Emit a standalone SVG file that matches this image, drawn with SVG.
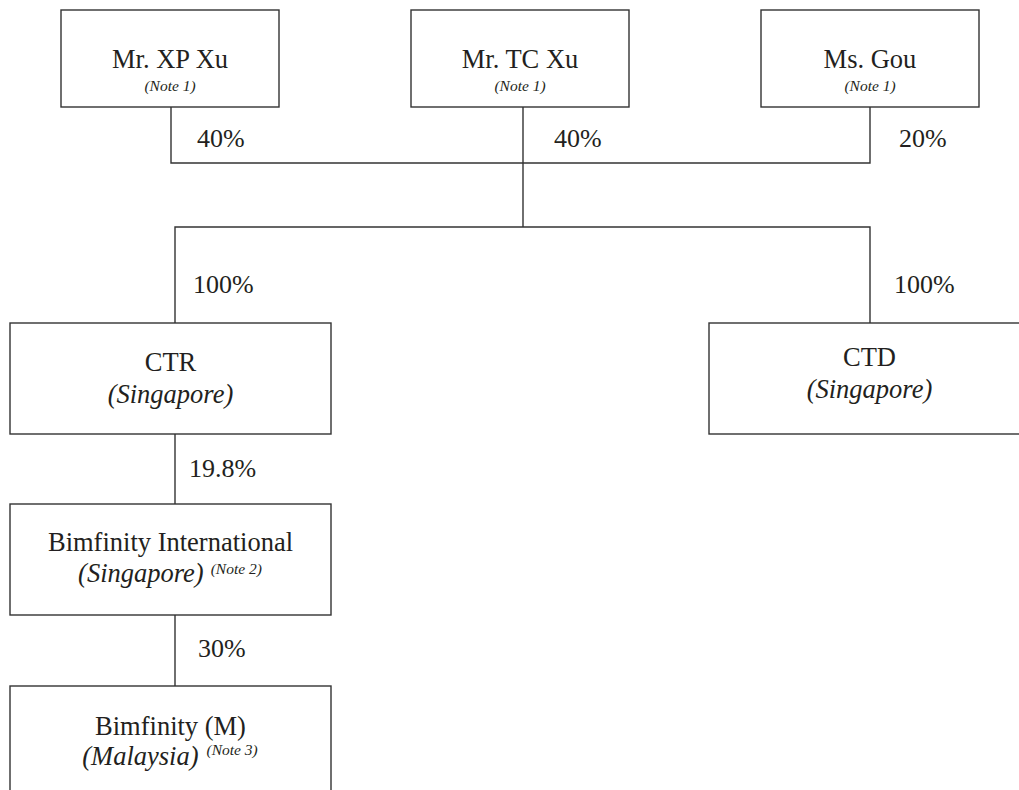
<svg xmlns="http://www.w3.org/2000/svg" width="1019" height="790" viewBox="0 0 1019 790">
<style>
.box{fill:#fff;stroke:#333;stroke-width:1.4}
.ln{fill:none;stroke:#333;stroke-width:1.4}
text{font-family:"Liberation Serif","Times New Roman",serif;fill:#231f20}
.nm{font-size:26.5px;text-anchor:middle}
.it{font-style:italic;font-size:26.5px;text-anchor:middle}
.mid{text-anchor:middle}
.it2{font-style:italic;font-size:26.5px}
.nt{font-style:italic;font-size:15.5px;text-anchor:middle}
.sn{font-style:italic;font-size:15.5px}
.pc{font-size:26px}
</style>
<rect width="1019" height="790" fill="#fff"/>
<g id="connectors">
<path class="ln" d="M171,107 V163 H870 V107"/>
<path class="ln" d="M523,107 V227"/>
<path class="ln" d="M175,323 V227 H870 V323"/>
<path class="ln" d="M175,434 V504"/>
<path class="ln" d="M175,615 V686"/>
<text class="pc" x="197" y="147">40%</text>
<text class="pc" x="554" y="147">40%</text>
<text class="pc" x="899" y="147">20%</text>
<text class="pc" x="193" y="293">100%</text>
<text class="pc" x="894" y="293">100%</text>
<text class="pc" x="189" y="477">19.8%</text>
<text class="pc" x="198" y="657">30%</text>
</g>
<g id="xp">
<rect class="box" x="61" y="10" width="218" height="97"/>
<text class="nm" x="170" y="68">Mr. XP Xu</text>
<text class="nt" x="170" y="91">(Note 1)</text>
</g>
<g id="tc">
<rect class="box" x="411" y="10" width="218" height="97"/>
<text class="nm" x="520" y="68">Mr. TC Xu</text>
<text class="nt" x="520" y="91">(Note 1)</text>
</g>
<g id="gou">
<rect class="box" x="761" y="10" width="218" height="97"/>
<text class="nm" x="870" y="68">Ms. Gou</text>
<text class="nt" x="870" y="91">(Note 1)</text>
</g>
<g id="ctr">
<rect class="box" x="10" y="323" width="321" height="111"/>
<text class="nm" x="170.5" y="371">CTR</text>
<text class="it" x="170.5" y="403">(Singapore)</text>
</g>
<g id="ctd">
<rect class="box" x="709" y="323" width="321" height="111"/>
<text class="nm" x="869.5" y="366">CTD</text>
<text class="it" x="869.5" y="398">(Singapore)</text>
</g>
<g id="bimint">
<rect class="box" x="10" y="504" width="321" height="111"/>
<text class="nm" x="170.5" y="551">Bimfinity International</text>
<text class="mid" x="170" y="582"><tspan class="it2">(Singapore)</tspan><tspan class="sn" dx="7" dy="-8">(Note 2)</tspan></text>
</g>
<g id="bimm">
<rect class="box" x="10" y="686" width="321" height="120"/>
<text class="nm" x="170.5" y="735">Bimfinity (M)</text>
<text class="mid" x="170" y="765"><tspan class="it2">(Malaysia)</tspan><tspan class="sn" dx="8" dy="-10">(Note 3)</tspan></text>
</g>
</svg>
